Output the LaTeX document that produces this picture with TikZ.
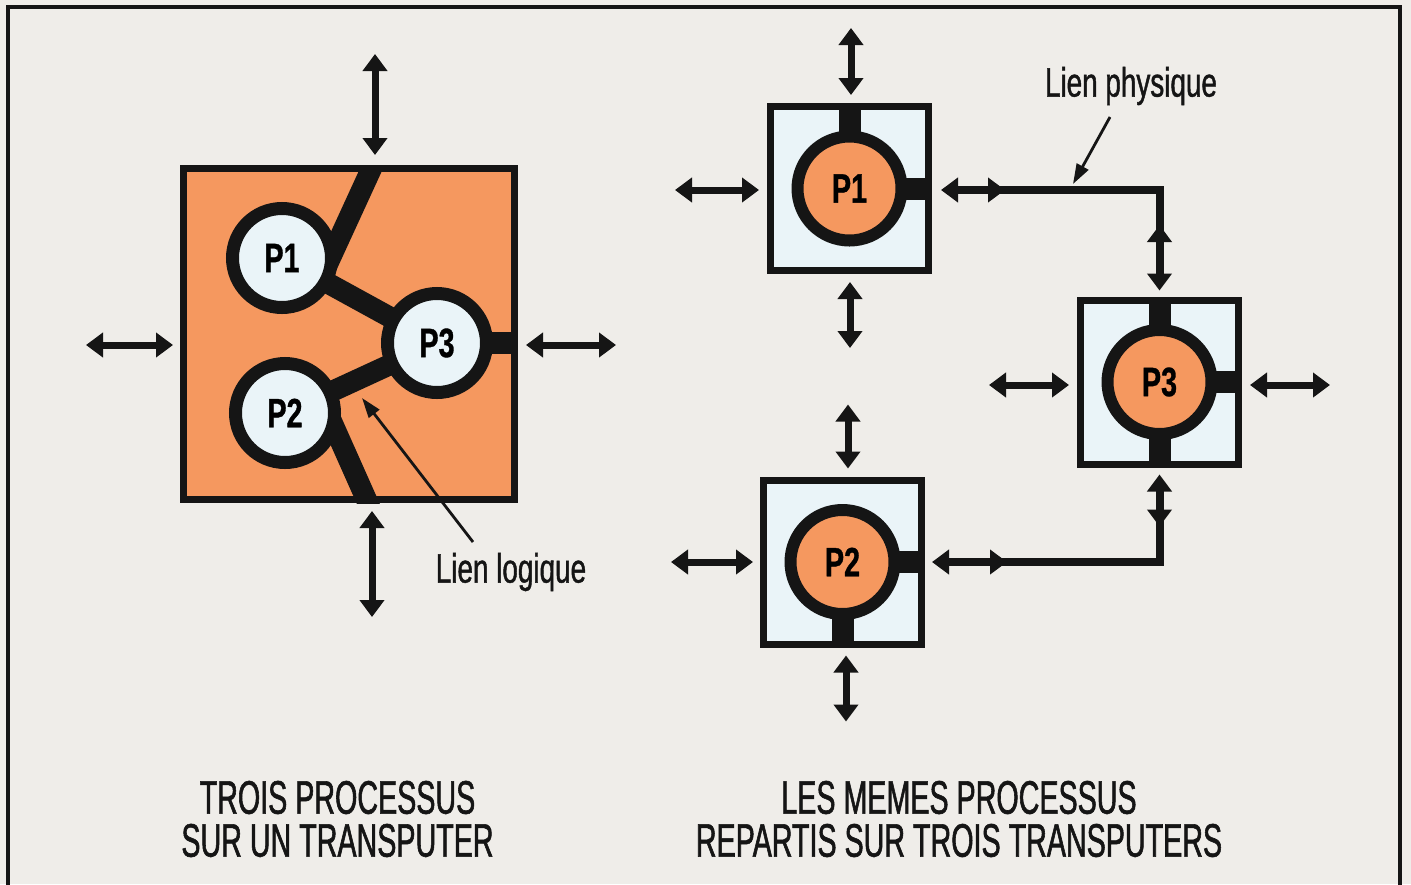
\documentclass[tikz,border=0pt]{standalone}
\usepackage{fontspec}
\setmainfont{Liberation Sans}
\newfontfamily\capfont{Liberation Sans}[FakeStretch=0.61,FakeBold=1.2]
\newfontfamily\lienfont{Liberation Sans}[FakeStretch=0.68,FakeBold=1.0]
\newfontfamily\pfont{Liberation Sans}[FakeStretch=0.70,FakeBold=0.8]
\usetikzlibrary{arrows.meta,calc}
\definecolor{bgc}{HTML}{EFEDE9}
\definecolor{org}{HTML}{F5985F}
\definecolor{pale}{HTML}{EAF4F8}
\definecolor{ink}{HTML}{151515}
\tikzset{
  bigtip/.tip={Triangle[length=17pt,width=24pt]},
  smalltip/.tip={Triangle[length=20pt,width=13pt]},
  dbl/.style={draw=ink, line width=7pt, arrows={bigtip-bigtip}},
  plink/.style={draw=ink, line width=8pt},
  pointer/.style={draw=ink, line width=2.8pt, arrows={-smalltip}},
  lbox/.style={draw=ink, fill=org, line width=7pt, minimum size=331pt, inner sep=0pt},
  rbox/.style={draw=ink, fill=pale, line width=7pt, minimum width=158pt, minimum height=164pt, inner sep=0pt},
  lcirc/.style={circle, draw=ink, fill=pale, line width=13pt, minimum size=99pt, inner sep=0pt, font={\pfont\bfseries\fontsize{41}{41}\selectfont}},
  rcirc/.style={circle, draw=ink, fill=org, line width=12pt, minimum size=104pt, inner sep=0pt, font={\pfont\bfseries\fontsize{41}{41}\selectfont}},
  band/.style={draw=ink, line width=21pt},
  stub/.style={draw=ink, line width=22pt},
  lien/.style={font={\lienfont\fontsize{41}{41}\selectfont}, inner sep=0pt, text=ink},
  caption/.style={font={\capfont\fontsize{47}{43}\selectfont}, align=center, inner sep=0pt, text=ink},
}
\begin{document}
\begin{tikzpicture}[x=1pt,y=-1pt]
\fill[bgc] (0,0) rectangle (1411,884);
\useasboundingbox (0,0) rectangle (1411,884);
\draw[ink, line width=4pt] (8,900) -- (8,7) -- (1400,7) -- (1400,900);

% ---------- left: one transputer ----------
\node[lbox] (L) at (349,334) {};
\coordinate (c1) at (282,258);
\coordinate (c3) at (437,343);
\coordinate (c2) at (285,413);
\coordinate (t1s) at (324,272);
\coordinate (t1) at (380,150);
\coordinate (b2s) at (327,411);
\coordinate (b2) at (380,530);
\begin{scope}
  \clip (L.south west) rectangle (L.north east);
  \draw[band] (c1) -- (c3);
  \draw[band] (c2) -- (c3);
  \draw[band] (t1s) -- (t1);
  \draw[band] (b2s) -- (b2);
  \draw[stub] (c3) -- (c3 -| L.east);
\end{scope}
\node[lcirc] (P1) at (c1) {P1};
\node[lcirc] (P3) at (c3) {P3};
\node[lcirc] (P2) at (c2) {P2};

\draw[dbl] ($(L.north)+(26,-10)$) -- ++(0,-101);
\draw[dbl] ($(L.south)+(23,8)$) -- ++(0,106);
\draw[dbl] ($(L.west)+(-7,11)$) -- ++(-87,0);
\draw[dbl] ($(L.east)+(8,11)$) -- ++(90,0);

\node[lien] (LL) at (511,572) {Lien logique};
\coordinate (ll1) at (473,542);
\coordinate (ll2) at (362,398);
\draw[pointer] (ll1) -- (ll2);

% ---------- right: three transputers ----------
\node[rbox] (B1) at (849.5,188.5) {};
\node[rbox] (B3) at (1159.5,382) {};
\node[rbox] (B2) at (842.5,562) {};
\draw[stub] (B1.center) -- (B1.north);
\draw[stub] (B1.center) -- (B1.east);
\draw[stub] (B3.center) -- (B3.north);
\draw[stub] (B3.center) -- (B3.south);
\draw[stub] (B3.center) -- (B3.east);
\draw[stub] (B2.center) -- (B2.east);
\draw[stub] (B2.center) -- (B2.south);
\node[rcirc] (R1) at (B1.center) {P1};
\node[rcirc] (R3) at (B3.center) {P3};
\node[rcirc] (R2) at (B2.center) {P2};

\draw[dbl] ($(B1.north)+(1.5,-8)$) -- ++(0,-67);
\draw[dbl] ($(B1.west)+(-8,1.5)$) -- ++(-84,0);
\draw[dbl] ($(B1.south)+(0.5,8)$) -- ++(0,66);
\draw[dbl] ($(B3.west)+(-8,3)$) -- ++(-80,0);
\draw[dbl] ($(B3.east)+(8,3)$) -- ++(80,0);
\draw[dbl] ($(B2.north)+(5.5,-8)$) -- ++(0,-64);
\draw[dbl] ($(B2.west)+(-7,0)$) -- ++(-82,0);
\draw[dbl] ($(B2.south)+(3.5,8)$) -- ++(0,66);

% physical links
\coordinate (s1) at ($(B1.east)+(9,1.5)$);
\coordinate (k1) at (s1 -| B3.north);
\coordinate (e1) at ($(B3.north)+(0,-6)$);
\draw[plink, arrows={bigtip-bigtip}] (s1) -- (k1) -- (e1);
\draw[plink, arrows={-bigtip}] ($(s1)+(40,0)$) -- ($(s1)+(64,0)$);
\draw[plink, arrows={-bigtip}] ($(k1)+(0,55)$) -- ($(k1)+(0,35)$);

\coordinate (s2) at ($(B2.east)+(7,0)$);
\coordinate (k2) at (s2 -| B3.south);
\coordinate (e2) at ($(B3.south)+(0,7)$);
\draw[plink, arrows={bigtip-bigtip}] (s2) -- (k2) -- (e2);
\draw[plink, arrows={-bigtip}] ($(s2)+(50,0)$) -- ($(s2)+(75,0)$);
\draw[plink, arrows={-bigtip}] ($(e2)+(0,32)$) -- ($(e2)+(0,52)$);

\node[lien] (LP) at (1131,86) {Lien physique};
\coordinate (lp1) at (1110,117);
\coordinate (lp2) at (1073,184);
\draw[pointer] (lp1) -- (lp2);

% captions
\node[caption] (C1) at (337.5,819) {TROIS PROCESSUS\\SUR UN TRANSPUTER};
\node[caption] (C2) at (959,819) {LES MEMES PROCESSUS\\REPARTIS SUR TROIS TRANSPUTERS};
\end{tikzpicture}
\end{document}
